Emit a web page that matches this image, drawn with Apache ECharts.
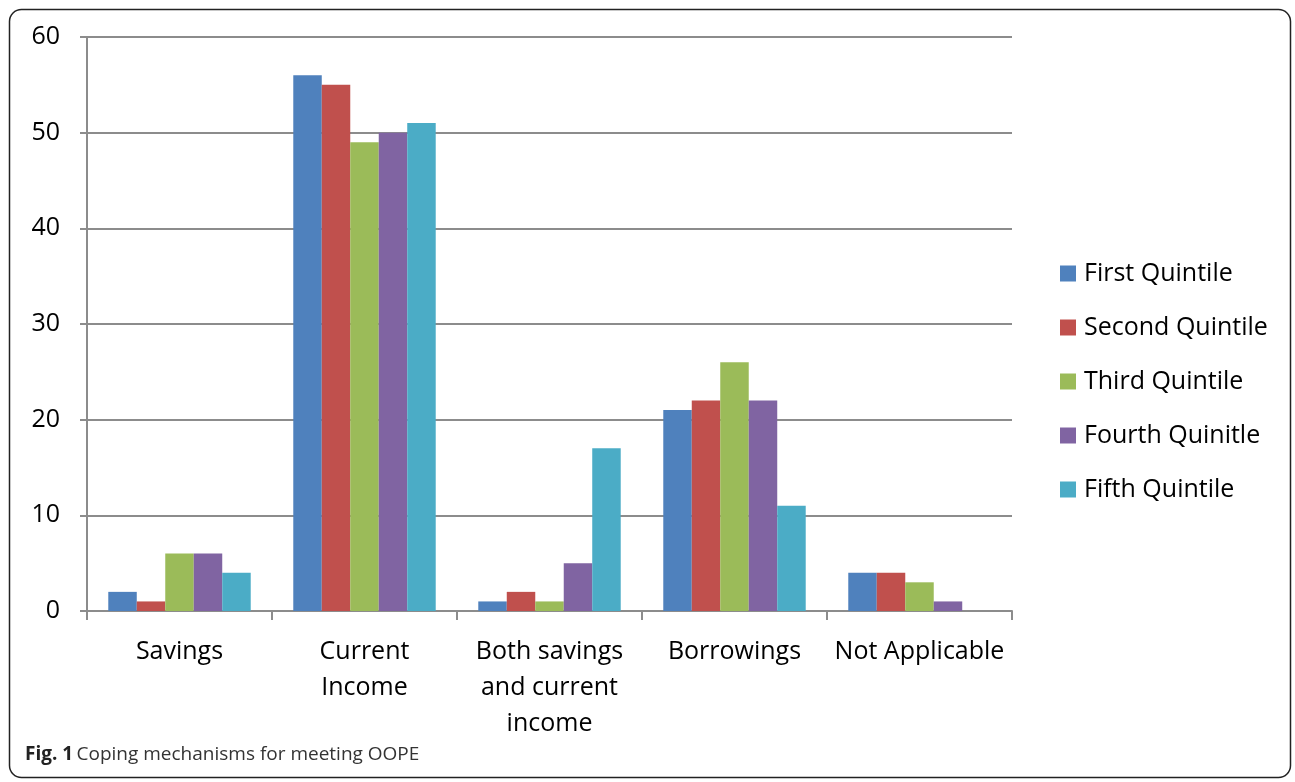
<!DOCTYPE html>
<html>
<head>
<meta charset="utf-8">
<script src="https://cdn.jsdelivr.net/npm/echarts@6/dist/echarts.min.js"></script>
<style>html,body{margin:0;padding:0;background:#fff}#c{width:1295px;height:782px}</style>
</head>
<body>
<div id="c"></div>
<script>
const categories = ["Savings", "Current\nIncome", "Both savings\nand current\nincome", "Borrowings", "Not Applicable"];
const seriesNames = ["First Quintile", "Second Quintile", "Third Quintile", "Fourth Quinitle", "Fifth Quintile"];
const firstQuintile = [2, 56, 1, 21, 4];
const secondQuintile = [1, 55, 2, 22, 4];
const thirdQuintile = [6, 49, 1, 26, 3];
const fourthQuintile = [6, 50, 5, 22, 1];
const fifthQuintile = [4, 51, 17, 11, 0];
const colors = ["#4F81BD", "#C0504D", "#9BBB59", "#8064A2", "#4BACC6"];
const allData = [firstQuintile, secondQuintile, thirdQuintile, fourthQuintile, fifthQuintile];

const chart = echarts.init(document.getElementById('c'));
const font = "'Open Sans', sans-serif";
chart.setOption({
  animation: false,
  color: colors,
  textStyle: { fontFamily: font },
  grid: { left: 87, right: 283, top: 37, bottom: 171 },
  legend: {
    orient: 'vertical', left: 1055, top: 256,
    itemWidth: 16, itemHeight: 16, itemGap: 29,
    icon: 'rect',
    textStyle: { fontSize: 25, color: '#000', fontFamily: font, padding: [0, 0, 0, 3] },
    data: seriesNames
  },
  xAxis: {
    type: 'category', data: categories,
    axisLine: { lineStyle: { color: '#8c8c8c', width: 2 } },
    axisTick: { show: true, length: 9, lineStyle: { color: '#8c8c8c', width: 2 } },
    axisLabel: { fontSize: 25, color: '#000', lineHeight: 36, margin: 23, interval: 0, fontFamily: font }
  },
  yAxis: {
    type: 'value', min: 0, max: 60, interval: 10,
    axisLine: { show: true, lineStyle: { color: '#8c8c8c', width: 2 } },
    axisTick: { show: true, length: 7, lineStyle: { color: '#8c8c8c', width: 2 } },
    splitLine: { lineStyle: { color: '#8c8c8c', width: 2 } },
    axisLabel: { fontSize: 25, color: '#000', margin: 27, fontFamily: font }
  },
  series: seriesNames.map((n, i) => ({
    name: n, type: 'bar', data: allData[i],
    barGap: '0%', barCategoryGap: '23%',
    itemStyle: { color: colors[i] }
  })),
  graphic: [
    { type: 'rect', shape: { x: 9.5, y: 9.5, width: 1281, height: 768, r: 12 },
      style: { fill: 'none', stroke: '#222', lineWidth: 1.5 }, z: 100 },
    { type: 'text', left: 25, top: 745, z: 100,
      style: { text: '{b|Fig. 1} {n|Coping mechanisms for meeting OOPE}',
        rich: { b: { fontWeight: 'bold', fontSize: 19, fill: '#222', fontFamily: font },
                n: { fontSize: 19, fill: '#333', fontFamily: font } } } }
  ]
});
</script>
</body>
</html>
